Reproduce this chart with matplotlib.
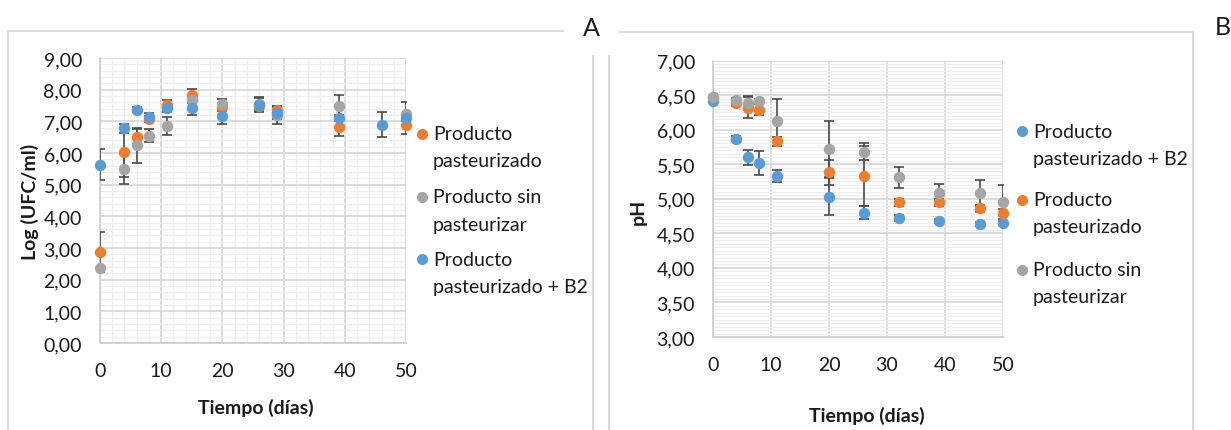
import matplotlib.pyplot as plt
from matplotlib.lines import Line2D
from matplotlib.ticker import MultipleLocator, FuncFormatter

plt.rcParams['font.family'] = ['Lato', 'DejaVu Sans']

W, H = 1231, 431
ORANGE = '#ED7D31'
GRAY = '#A5A5A5'
BLUE = '#5B9BD5'
ERR = '#4a4a4a'

# --- A: recuento (Log UFC/ml) ---
dias_a = [0, 4, 6, 8, 11, 15, 20, 26, 29, 39, 50]
dias_a_b2 = [0, 4, 6, 8, 11, 15, 20, 26, 29, 39, 46, 50]
log_past = [2.88, 6.02, 6.52, 7.07, 7.52, 7.84, 7.44, 7.49, 7.36, 6.81, 6.89]
log_past_err = [0.63, 0.77, 0.24, 0.10, 0.15, 0.18, 0.10, 0.10, 0.12, 0.26, 0.29]
log_sin = [2.36, 5.49, 6.25, 6.55, 6.86, 7.67, 7.55, 7.55, 7.20, 7.49, 7.22]
log_sin_err = [0.05, 0.47, 0.55, 0.21, 0.28, 0.10, 0.15, 0.21, 0.28, 0.34, 0.38]
log_b2 = [5.63, 6.78, 7.36, 7.15, 7.41, 7.41, 7.16, 7.52, 7.26, 7.10, 6.90, 7.10]
log_b2_err = [0.49, 0.14, 0.08, 0.10, 0.12, 0.20, 0.24, 0.22, 0.20, 0.10, 0.39, 0.10]

# --- B: pH ---
dias_b = [0, 4, 6, 8, 11, 20, 26, 32, 39, 46, 50]
ph_b2 = [6.42, 5.87, 5.60, 5.52, 5.33, 5.03, 4.80, 4.72, 4.68, 4.64, 4.65]
ph_b2_err = [0.05, 0.04, 0.11, 0.17, 0.085, 0.27, 0.10, 0.04, 0.03, 0.03, 0.03]
ph_past = [6.47, 6.38, 6.32, 6.29, 5.83, 5.38, 5.33, 4.95, 4.95, 4.86, 4.80]
ph_past_err = [0.05, 0.04, 0.155, 0.08, 0.07, 0.175, 0.43, 0.05, 0.05, 0.05, 0.05]
ph_sin = [6.47, 6.43, 6.38, 6.41, 6.13, 5.72, 5.68, 5.31, 5.09, 5.08, 4.95]
ph_sin_err = [0.05, 0.03, 0.10, 0.03, 0.31, 0.41, 0.12, 0.155, 0.12, 0.19, 0.25]

LBL_PAST = ['Producto', 'pasteurizado']
LBL_SIN = ['Producto sin', 'pasteurizar']
LBL_B2 = ['Producto', 'pasteurizado + B2']

TXT = '#1a1a1a'


def coma(v, pos):
    return f"{v:.2f}".replace('.', ',')


def px_axes(fig, x0, y0, x1, y1):
    return fig.add_axes([x0 / W, 1 - y1 / H, (x1 - x0) / W, (y1 - y0) / H])


def style_axes(ax, ylim, ymaj, ymin, xmin=None):
    ax.set_xlim(0, 50)
    ax.set_ylim(*ylim)
    ax.xaxis.set_major_locator(MultipleLocator(10))
    ax.yaxis.set_major_locator(MultipleLocator(ymaj))
    ax.yaxis.set_minor_locator(MultipleLocator(ymin))
    if xmin:
        ax.xaxis.set_minor_locator(MultipleLocator(xmin))
        ax.grid(which='minor', axis='x', color='#eeeeee', lw=0.9)
    ax.grid(which='minor', axis='y', color='#eeeeee', lw=0.9)
    ax.grid(which='major', color='#d9d9d9', lw=1.3)
    ax.yaxis.set_major_formatter(FuncFormatter(coma))
    ax.tick_params(which='both', length=0, labelsize=14, colors=TXT)
    ax.tick_params(axis='y', pad=13)
    ax.tick_params(axis='x', pad=14)
    for s in ['top', 'right']:
        ax.spines[s].set_visible(False)
    for s in ['left', 'bottom']:
        ax.spines[s].set_color('#cfcfcf')
        ax.spines[s].set_linewidth(1.3)
    ax.set_axisbelow(True)


def draw_points(ax, series):
    for x, y, e, c in series:
        ax.errorbar(x, y, yerr=e, fmt='none', ecolor=ERR, elinewidth=1.2,
                    capsize=3.8, capthick=1.2, zorder=3)
    for i, (x, y, e, c) in enumerate(series):
        ax.plot(x, y, 'o', color=c, ms=8.2, mew=0, zorder=5 + i, clip_on=False)


def legend_entry(fig, xm, ym, color, lines, gap=27):
    fig.add_artist(Line2D([xm / W], [1 - ym / H], marker='o', ms=8, mew=0,
                          color=color, transform=fig.transFigure))
    for k, t in enumerate(lines):
        fig.text((xm + 11) / W, 1 - (ym + k * gap) / H, t, fontsize=14,
                 va='center', ha='left', color=TXT)


def frame_line(fig, x0, y0, x1, y1):
    fig.add_artist(Line2D([x0 / W, x1 / W], [1 - y0 / H, 1 - y1 / H],
                          transform=fig.transFigure, color='#d9d9d9', lw=1.3))


fig = plt.figure(figsize=(W / 100, H / 100), dpi=100)

# panel A
axA = px_axes(fig, 100, 59, 406, 344)
style_axes(axA, (0, 9), 1, 0.2, xmin=2)
draw_points(axA, [(dias_a, log_past, log_past_err, ORANGE),
                  (dias_a, log_sin, log_sin_err, GRAY),
                  (dias_a_b2, log_b2, log_b2_err, BLUE)])
fig.text(256 / W, 1 - 408 / H, 'Tiempo (días)', ha='center', va='center',
         fontsize=14, fontweight='bold', color=TXT)
fig.text(30 / W, 1 - 202 / H, 'Log (UFC/ml)', ha='center', va='center',
         rotation=90, fontsize=14, fontweight='bold', color=TXT)
legend_entry(fig, 422, 135, ORANGE, LBL_PAST)
legend_entry(fig, 422, 198, GRAY, LBL_SIN)
legend_entry(fig, 422, 260, BLUE, LBL_B2)

# panel B
axB = px_axes(fig, 713, 61.5, 1003, 338)
style_axes(axB, (3, 7), 0.5, 0.05)
draw_points(axB, [(dias_b, ph_b2, ph_b2_err, BLUE),
                  (dias_b, ph_past, ph_past_err, ORANGE),
                  (dias_b, ph_sin, ph_sin_err, GRAY)])
fig.text(867 / W, 1 - 416 / H, 'Tiempo (días)', ha='center', va='center',
         fontsize=14, fontweight='bold', color=TXT)
fig.text(638 / W, 1 - 212 / H, 'pH', ha='center', va='center',
         rotation=90, fontsize=14, fontweight='bold', color=TXT)
legend_entry(fig, 1022, 132, BLUE, LBL_B2)
legend_entry(fig, 1022, 201, ORANGE, LBL_PAST)
legend_entry(fig, 1022, 271, GRAY, LBL_SIN)

# marcos de cada panel
frame_line(fig, 8, 32, 563, 32)
frame_line(fig, 8, 32, 8, 431)
frame_line(fig, 593, 57, 593, 431)
frame_line(fig, 609, 57, 609, 431)
frame_line(fig, 620, 33, 1193, 33)
frame_line(fig, 1193, 33, 1193, 431)
fig.text(591 / W, 1 - 29 / H, 'A', ha='center', va='center', fontsize=18, color=TXT)
fig.text(1223 / W, 1 - 28 / H, 'B', ha='center', va='center', fontsize=18, color=TXT)

fig.savefig('out.png', dpi=100)
